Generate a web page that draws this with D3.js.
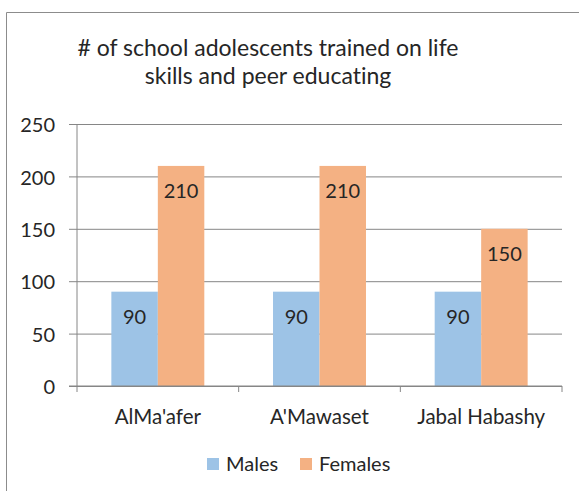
<!DOCTYPE html>
<html>
<head>
<meta charset="utf-8">
<script src="https://cdn.jsdelivr.net/npm/d3@7"></script>
<style>
  body { margin: 0; background: #fff; }
  svg text { font-family: Lato, "Open Sans", sans-serif; fill: #262626; font-variant-ligatures: none; }
</style>
</head>
<body>
<svg id="chart" width="579" height="491"></svg>
<script>
// data
const categories = ["AlMa'afer", "A'Mawaset", "Jabal Habashy"];
const seriesNames = ["Males", "Females"];
const males = [90, 90, 90];
const females = [210, 210, 150];
const yTicks = [0, 50, 100, 150, 200, 250];
const titleLines = ["# of school adolescents trained on life", "skills and peer educating"];

const colors = { Males: "#9dc3e6", Females: "#f4b183" };
const gridColor = "#868686";

const svg = d3.select("#chart");

// outer chart border (only top + left visible in the crop)
svg.append("path")
  .attr("d", "M6.5,491 V12.5 H579")
  .attr("fill", "none")
  .attr("stroke", "#8c8c8c")
  .attr("stroke-width", 1);

// title, one text per line
svg.append("g")
  .selectAll("text")
  .data(titleLines)
  .join("text")
  .attr("text-anchor", "middle")
  .style("font-size", "23px")
  .attr("x", 268)
  .attr("y", (d, i) => 56 + i * 28)
  .text(d => d);

const plot = { left: 77, right: 562, top: 124, bottom: 386 };

const y = d3.scaleLinear().domain([0, 250]).range([plot.bottom, plot.top]);
const pad = 0.425;
const x = d3.scaleBand().domain(categories)
  .range([plot.left, plot.right])
  .paddingInner(pad).paddingOuter(pad / 2);
const xs = d3.scaleBand().domain(seriesNames).range([0, x.bandwidth()]);

// y axis with gridlines
const yAxis = svg.append("g")
  .attr("transform", `translate(${plot.left},0)`)
  .call(d3.axisLeft(y).tickValues(yTicks)
    .tickSize(-(plot.right - plot.left)).tickPadding(22));
yAxis.select(".domain").remove();
yAxis.selectAll(".tick line")
  .attr("x1", -8)
  .attr("stroke", gridColor);
yAxis.selectAll(".tick text")
  .attr("dy", "0.38em")
  .style("font-size", "20px");
yAxis.append("line")
  .attr("y1", plot.top).attr("y2", plot.bottom + 6)
  .attr("stroke", gridColor);

// x axis: labels centered, ticks on band boundaries
const xAxis = svg.append("g")
  .attr("transform", `translate(0,${plot.bottom})`)
  .call(d3.axisBottom(x).tickSize(0).tickPadding(23));
xAxis.select(".domain").remove();
xAxis.selectAll(".tick text").style("font-size", "20.5px");

const bounds = categories.map(c => x(c) - x.step() * pad / 2).concat([plot.right]);
xAxis.selectAll("line.boundary")
  .data(bounds.slice(1))
  .join("line")
  .attr("class", "boundary")
  .attr("x1", d => d).attr("x2", d => d)
  .attr("y1", 0).attr("y2", 6)
  .attr("stroke", gridColor);

// bars
const rows = categories.map((c, i) => ({ cat: c, Males: males[i], Females: females[i] }));
const groups = svg.append("g").selectAll("g")
  .data(rows)
  .join("g")
  .attr("transform", d => `translate(${x(d.cat)},0)`);

const cells = groups.selectAll("g")
  .data(d => seriesNames.map(s => ({ key: s, value: d[s] })))
  .join("g");

cells.append("rect")
  .attr("x", d => xs(d.key))
  .attr("y", d => y(d.value))
  .attr("width", xs.bandwidth())
  .attr("height", d => y(0) - y(d.value))
  .attr("fill", d => colors[d.key]);

cells.append("text")
  .attr("x", d => xs(d.key) + xs.bandwidth() / 2)
  .attr("y", d => y(d.value) + 32)
  .attr("text-anchor", "middle")
  .style("font-size", "20px")
  .text(d => d.value);

// x-axis baseline drawn over bars
svg.append("line")
  .attr("x1", plot.left - 8).attr("x2", plot.right)
  .attr("y1", plot.bottom).attr("y2", plot.bottom)
  .attr("stroke", gridColor);

// legend
const legendItems = [
  { key: "Males", sx: 207, tx: 226 },
  { key: "Females", sx: 300, tx: 319 }
];
const legend = svg.append("g");
legend.selectAll("rect")
  .data(legendItems)
  .join("rect")
  .attr("x", d => d.sx).attr("y", 458)
  .attr("width", 12).attr("height", 12)
  .attr("fill", d => colors[d.key]);
legend.selectAll("text")
  .data(legendItems)
  .join("text")
  .attr("x", d => d.tx).attr("y", 471)
  .style("font-size", "20px")
  .text(d => d.key);
</script>
</body>
</html>
